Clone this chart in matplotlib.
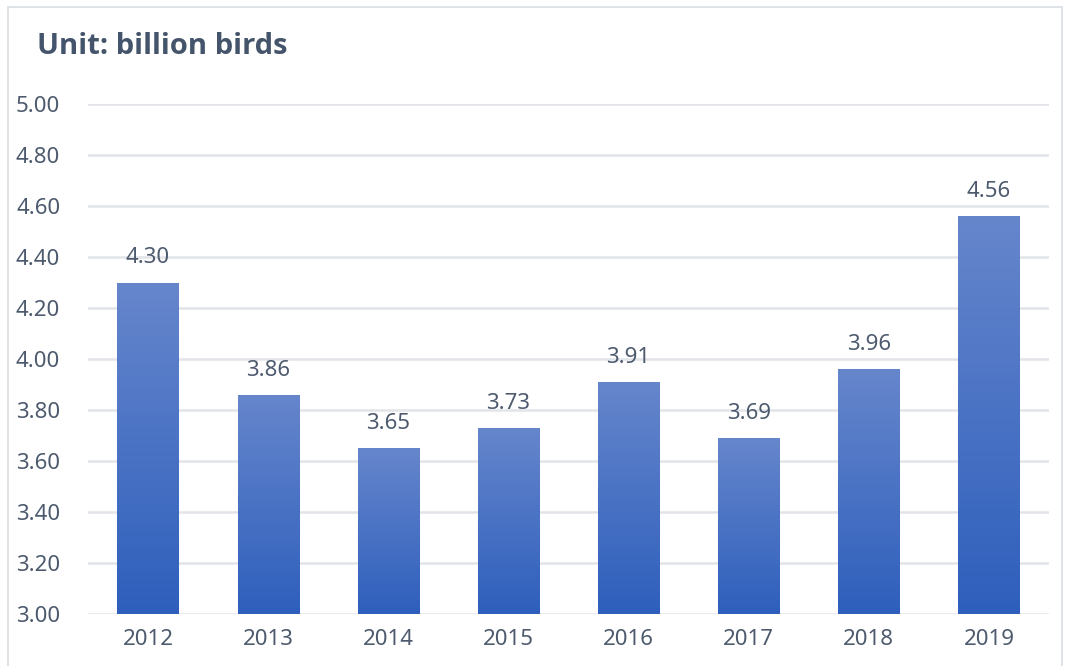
import numpy as np
import matplotlib.pyplot as plt
from matplotlib.patches import Rectangle

# annual output, billion birds
years = ['2012', '2013', '2014', '2015', '2016', '2017', '2018', '2019']
values = [4.30, 3.86, 3.65, 3.73, 3.91, 3.69, 3.96, 4.56]

plt.rcParams['font.family'] = ['Noto Sans', 'DejaVu Sans']

fig = plt.figure(figsize=(10.67, 6.66), dpi=100)
fig.patch.set_facecolor('white')

# light frame round the chart area
fig.patches.append(Rectangle((8 / 1067, -0.01), 1054 / 1067, 1 - 7 / 666 + 0.01,
                             transform=fig.transFigure, fill=False,
                             edgecolor='#d9dde3', linewidth=1.2))

ax = fig.add_axes([88 / 1067, 1 - 614 / 666, 961 / 1067, 510 / 666])

x = np.arange(len(years))
bars = ax.bar(x, values, width=0.51, bottom=0, color='none', zorder=3)

# vertical gradient in each bar, light at top, dark at bottom
grad = np.linspace(0, 1, 256).reshape(-1, 1)
top_c = np.array([0x66, 0x86, 0xcc]) / 255
bot_c = np.array([0x2e, 0x5f, 0xbc]) / 255
img = bot_c + (top_c - bot_c) * grad[..., None]
for b in bars:
    x0, w, h = b.get_x(), b.get_width(), b.get_height()
    im = ax.imshow(img, extent=[x0, x0 + w, 3.0, h], origin='lower',
                   aspect='auto', zorder=3)
    im.set_clip_path(b)

for xi, v in zip(x, values):
    ax.text(xi, v + 0.055, f'{v:.2f}', ha='center', va='bottom',
            fontsize=16, color='#4d5a6e', zorder=4)

ax.set_xlim(-0.5, len(years) - 0.5)
ax.set_ylim(3.0, 5.0)
ax.set_yticks(np.arange(3.0, 5.01, 0.2))
ax.set_yticklabels([f'{t:.2f}' for t in np.arange(3.0, 5.01, 0.2)])
ax.set_xticks(x)
ax.set_xticklabels(years)
ax.tick_params(length=0, labelsize=16, labelcolor='#4d5a6e')
ax.tick_params(axis='y', pad=20)
ax.tick_params(axis='x', pad=11)
ax.grid(axis='y', color='#e1e4e9', linewidth=1.8, zorder=0)
ax.set_axisbelow(True)
for s in ax.spines.values():
    s.set_visible(False)

fig.text(37 / 1067, 1 - 46 / 666, 'Unit: billion birds', fontsize=21,
         family=['Open Sans', 'DejaVu Sans'], fontweight='bold',
         color='#44546a', va='center', ha='left')

fig.savefig('out.png', dpi=100)
